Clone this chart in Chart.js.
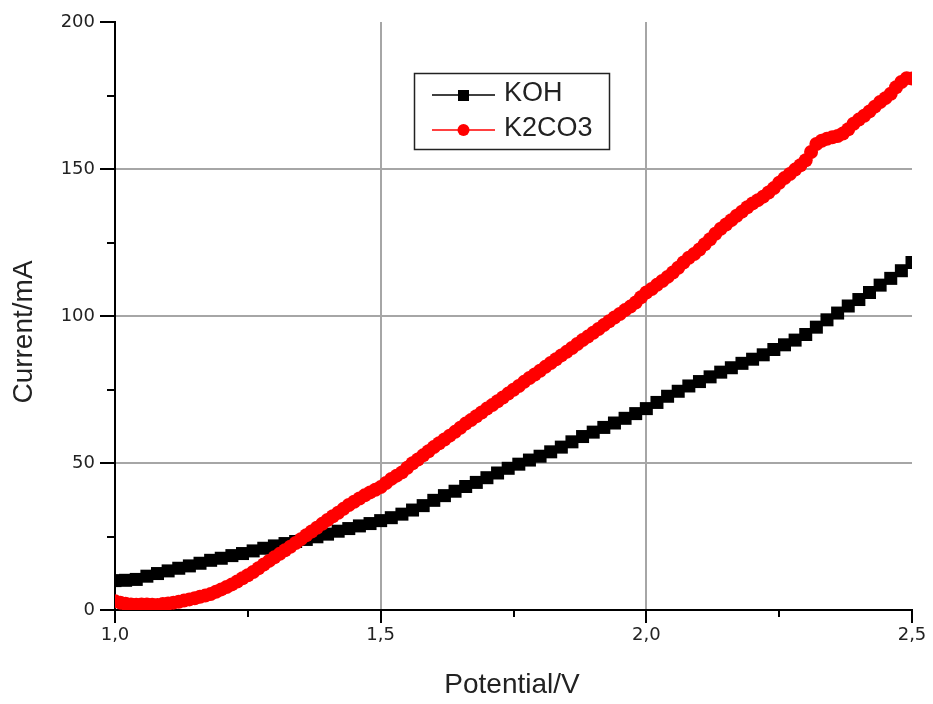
<!DOCTYPE html>
<html>
<head>
<meta charset="utf-8">
<title>Current vs Potential</title>
<script src="https://cdn.jsdelivr.net/npm/chart.js@4/dist/chart.umd.min.js"></script>
<style>
  html, body { margin: 0; padding: 0; background: #fff; }
  #wrap { width: 933px; height: 704px; position: relative; }
</style>
</head>
<body>
<div id="wrap"><canvas id="c" width="933" height="704"></canvas></div>
<script>
// Potential (V) for the KOH sweep
const kohPotential = [
  1.00, 1.02, 1.04, 1.06, 1.08, 1.10, 1.12, 1.14, 1.16, 1.18,
  1.20, 1.22, 1.24, 1.26, 1.28, 1.30, 1.32, 1.34, 1.36, 1.38,
  1.40, 1.42, 1.44, 1.46, 1.48, 1.50, 1.52, 1.54, 1.56, 1.58,
  1.60, 1.62, 1.64, 1.66, 1.68, 1.70, 1.72, 1.74, 1.76, 1.78,
  1.80, 1.82, 1.84, 1.86, 1.88, 1.90, 1.92, 1.94, 1.96, 1.98,
  2.00, 2.02, 2.04, 2.06, 2.08, 2.10, 2.12, 2.14, 2.16, 2.18,
  2.20, 2.22, 2.24, 2.26, 2.28, 2.30, 2.32, 2.34, 2.36, 2.38,
  2.40, 2.42, 2.44, 2.46, 2.48, 2.50
];

// Current (mA) in KOH electrolyte
const kohCurrent = [
  10.0, 10.1, 10.4, 11.5, 12.4, 13.3, 14.2, 15.0, 15.9, 16.9,
  17.6, 18.5, 19.2, 20.1, 21.0, 21.8, 22.6, 23.3, 24.0, 24.9,
  25.8, 26.8, 27.7, 28.6, 29.4, 30.4, 31.4, 32.6, 34.0, 35.5,
  37.3, 38.9, 40.4, 42.0, 43.4, 45.0, 46.6, 48.2, 49.6, 51.0,
  52.3, 53.8, 55.4, 57.2, 59.0, 60.5, 62.1, 63.6, 65.2, 66.8,
  68.5, 70.6, 72.7, 74.4, 76.2, 77.7, 79.3, 80.9, 82.4, 83.9,
  85.3, 86.8, 88.6, 90.2, 91.8, 93.7, 96.2, 98.7, 101.0, 103.4,
  105.6, 108.0, 110.5, 112.8, 115.4, 118.2
];

// Potential (V) for the K2CO3 sweep
const k2co3Potential = [
  1.00, 1.01, 1.02, 1.03, 1.04, 1.05, 1.06, 1.07, 1.08, 1.09,
  1.10, 1.11, 1.12, 1.13, 1.14, 1.15, 1.16, 1.17, 1.18, 1.19,
  1.20, 1.21, 1.22, 1.23, 1.24, 1.25, 1.26, 1.27, 1.28, 1.29,
  1.30, 1.31, 1.32, 1.33, 1.34, 1.35, 1.36, 1.37, 1.38, 1.39,
  1.40, 1.41, 1.42, 1.43, 1.44, 1.45, 1.46, 1.47, 1.48, 1.49,
  1.50, 1.51, 1.52, 1.53, 1.54, 1.55, 1.56, 1.57, 1.58, 1.59,
  1.60, 1.61, 1.62, 1.63, 1.64, 1.65, 1.66, 1.67, 1.68, 1.69,
  1.70, 1.71, 1.72, 1.73, 1.74, 1.75, 1.76, 1.77, 1.78, 1.79,
  1.80, 1.81, 1.82, 1.83, 1.84, 1.85, 1.86, 1.87, 1.88, 1.89,
  1.90, 1.91, 1.92, 1.93, 1.94, 1.95, 1.96, 1.97, 1.98, 1.99,
  2.00, 2.01, 2.02, 2.03, 2.04, 2.05, 2.06, 2.07, 2.08, 2.09,
  2.10, 2.11, 2.12, 2.13, 2.14, 2.15, 2.16, 2.17, 2.18, 2.19,
  2.20, 2.21, 2.22, 2.23, 2.24, 2.25, 2.26, 2.27, 2.28, 2.29,
  2.30, 2.31, 2.32, 2.33, 2.34, 2.35, 2.36, 2.37, 2.38, 2.39,
  2.40, 2.41, 2.42, 2.43, 2.44, 2.45, 2.46, 2.47, 2.48, 2.49,
  2.50
];

// Current (mA) in K2CO3 electrolyte
const k2co3Current = [
  3.0, 2.5, 2.1, 1.9, 1.8, 1.9, 1.9, 1.8, 1.7, 2.0,
  2.2, 2.5, 2.8, 3.2, 3.6, 4.0, 4.5, 4.9, 5.4, 6.2,
  7.0, 7.8, 8.7, 9.7, 10.8, 11.8, 12.9, 14.2, 15.5, 16.7,
  17.9, 19.1, 20.3, 21.5, 22.8, 24.1, 25.4, 26.7, 28.0, 29.3,
  30.6, 31.9, 33.1, 34.4, 35.7, 36.8, 37.9, 39.0, 40.0, 40.9,
  41.8, 43.2, 44.6, 45.7, 46.8, 48.4, 49.9, 51.2, 52.6, 54.0,
  55.4, 56.7, 58.0, 59.3, 60.6, 62.0, 63.4, 64.6, 65.9, 67.2,
  68.5, 69.7, 71.0, 72.3, 73.6, 74.9, 76.2, 77.6, 78.9, 80.1,
  81.4, 82.7, 84.0, 85.3, 86.6, 87.8, 89.1, 90.5, 91.8, 93.0,
  94.3, 95.6, 96.9, 98.2, 99.5, 100.7, 102.0, 103.2, 104.6, 106.4,
  108.0, 109.2, 110.6, 111.9, 113.3, 114.8, 116.4, 118.2, 119.8, 121.1,
  122.6, 124.4, 126.1, 128.0, 129.7, 131.1, 132.6, 134.1, 135.5, 137.0,
  138.3, 139.4, 140.6, 142.0, 143.5, 145.3, 146.9, 148.3, 149.8, 151.3,
  153.0, 155.8, 158.5, 159.6, 160.3, 160.8, 161.2, 162.1, 163.5, 165.4,
  166.8, 168.1, 169.6, 171.2, 172.8, 174.1, 175.6, 177.8, 179.6, 180.9,
  180.8
];

const seriesNames = ['KOH', 'K2CO3'];
const xTickValues = [1.0, 1.5, 2.0, 2.5];
const yTickValues = [0, 50, 100, 150, 200];
const xTitle = 'Potential/V';
const yTitle = 'Current/mA';

const toPoints = (xs, ys) => xs.map((x, i) => ({ x: x, y: ys[i] }));

// Outward major/minor ticks, axis titles and the boxed legend
const decorations = {
  id: 'decorations',
  afterDraw(chart) {
    const ctx = chart.ctx;
    const xs = chart.scales.x, ys = chart.scales.y;
    const area = chart.chartArea;
    ctx.save();
    ctx.strokeStyle = '#000';
    ctx.lineWidth = 2;
    // y ticks (major + minor half steps)
    for (let i = 0; i < yTickValues.length; i++) {
      const v = yTickValues[i];
      const py = Math.round(ys.getPixelForValue(v));
      ctx.beginPath();
      ctx.moveTo(area.left, py);
      ctx.lineTo(area.left - 15, py);
      ctx.stroke();
      if (i < yTickValues.length - 1) {
        const m = (v + yTickValues[i + 1]) / 2;
        const pm = Math.round(ys.getPixelForValue(m));
        ctx.beginPath();
        ctx.moveTo(area.left, pm);
        ctx.lineTo(area.left - 8, pm);
        ctx.stroke();
      }
    }
    // x ticks
    for (let i = 0; i < xTickValues.length; i++) {
      const v = xTickValues[i];
      const px = Math.round(xs.getPixelForValue(v));
      ctx.beginPath();
      ctx.moveTo(px, area.bottom);
      ctx.lineTo(px, area.bottom + 13);
      ctx.stroke();
      if (i < xTickValues.length - 1) {
        const m = (v + xTickValues[i + 1]) / 2;
        const pm = Math.round(xs.getPixelForValue(m));
        ctx.beginPath();
        ctx.moveTo(pm, area.bottom);
        ctx.lineTo(pm, area.bottom + 7);
        ctx.stroke();
      }
    }

    // axis titles
    ctx.fillStyle = '#222';
    ctx.font = '28px "Liberation Sans", Arial, sans-serif';
    ctx.textAlign = 'center';
    ctx.textBaseline = 'middle';
    ctx.fillText(xTitle, 512, 685);
    ctx.save();
    ctx.translate(24, 332);
    ctx.rotate(-Math.PI / 2);
    ctx.fillText(yTitle, 0, 0);
    ctx.restore();

    // legend box
    const bx = 414, by = 73, bw = 195, bh = 76;
    ctx.lineWidth = 1.5;
    ctx.strokeStyle = '#222';
    ctx.strokeRect(bx + 0.5, by + 0.5, bw, bh);
    const rows = [95, 130];
    chart.data.datasets.forEach((ds, i) => {
      const y = rows[i];
      ctx.strokeStyle = ds.borderColor;
      ctx.lineWidth = 1.5;
      ctx.beginPath();
      ctx.moveTo(432, y);
      ctx.lineTo(495, y);
      ctx.stroke();
      ctx.fillStyle = ds.pointBackgroundColor;
      if (ds.pointStyle === 'rect') {
        ctx.fillRect(458, y - 5, 11, 11);
      } else {
        ctx.beginPath();
        ctx.arc(463.5, y, 6, 0, Math.PI * 2);
        ctx.fill();
      }
      ctx.fillStyle = '#222';
      ctx.font = '27px "Liberation Sans", Arial, sans-serif';
      ctx.textAlign = 'left';
      ctx.textBaseline = 'middle';
      ctx.fillText(ds.label, 504, y - 1);
    });
    ctx.restore();
  }
};

new Chart(document.getElementById('c'), {
  type: 'line',
  data: {
    datasets: [
      {
        label: seriesNames[0],
        data: toPoints(kohPotential, kohCurrent),
        borderColor: '#000000',
        backgroundColor: '#000000',
        pointBackgroundColor: '#000000',
        pointBorderColor: '#000000',
        pointStyle: 'rect',
        pointRadius: 9.2,
        pointBorderWidth: 0,
        borderWidth: 1.5,
        tension: 0,
        order: 2
      },
      {
        label: seriesNames[1],
        data: toPoints(k2co3Potential, k2co3Current),
        borderColor: '#ff0000',
        backgroundColor: '#ff0000',
        pointBackgroundColor: '#ff0000',
        pointBorderColor: '#ff0000',
        pointStyle: 'circle',
        pointRadius: 7,
        pointBorderWidth: 0,
        borderWidth: 1.5,
        tension: 0,
        order: 1
      }
    ]
  },
  options: {
    responsive: false,
    animation: false,
    events: [],
    layout: { padding: { left: 0, right: 21, top: 22, bottom: 0 } },
    plugins: {
      legend: { display: false },
      tooltip: { enabled: false },
      title: { display: false }
    },
    scales: {
      x: {
        type: 'linear',
        min: 1.0,
        max: 2.5,
        afterFit: (s) => {
          s.height = 94;
          s.paddingLeft = 0; s.paddingRight = 0;
        },
        afterBuildTicks: (s) => { s.ticks = xTickValues.map(v => ({ value: v })); },
        border: { display: true, color: '#000', width: 2 },
        grid: {
          drawTicks: false,
          lineWidth: 2,
          color: (c) => (c.tick && (c.tick.value === 1.0 || c.tick.value === 2.5)) ? 'rgba(0,0,0,0)' : '#a6a6a6'
        },
        ticks: {
          padding: 15,
          color: '#222',
          font: { family: '"DejaVu Sans", Verdana, sans-serif', size: 18 },
          maxRotation: 0,
          callback: (v) => Number(v).toFixed(1).replace('.', ',')
        }
      },
      y: {
        type: 'linear',
        min: 0,
        max: 200,
        afterFit: (s) => {
          s.width = 115;
          s.paddingTop = 0; s.paddingBottom = 0;
        },
        afterBuildTicks: (s) => { s.ticks = yTickValues.map(v => ({ value: v })); },
        border: { display: true, color: '#000', width: 2 },
        grid: {
          drawTicks: false,
          lineWidth: 2,
          color: (c) => (c.tick && (c.tick.value === 0 || c.tick.value === 200)) ? 'rgba(0,0,0,0)' : '#a6a6a6'
        },
        ticks: {
          padding: 20,
          color: '#222',
          font: { family: '"DejaVu Sans", Verdana, sans-serif', size: 18 },
          callback: (v) => String(v)
        }
      }
    }
  },
  plugins: [decorations]
});
</script>
</body>
</html>
